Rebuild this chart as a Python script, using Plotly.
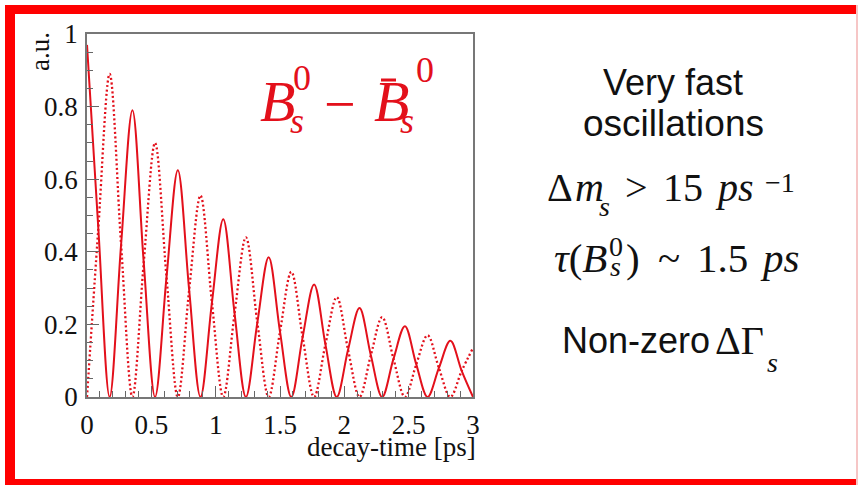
import plotly.graph_objects as go

# ---- data (decay time in ps, amplitude in a.u.) ----
t_ps = [0.000, 0.088, 0.176, 0.265, 0.353, 0.441, 0.529, 0.618, 0.706, 0.794,
        0.882, 0.971, 1.059, 1.147, 1.235, 1.324, 1.412, 1.500, 1.588, 1.676,
        1.765, 1.853, 1.941, 2.029, 2.118, 2.206, 2.294, 2.382, 2.471, 2.559,
        2.647, 2.735, 2.824, 2.912, 3.000]
unmixed = [0.97, 0.465, 0, 0.42, 0.79, 0.37, 0, 0.33, 0.625, 0.295,
           0, 0.26, 0.49, 0.23, 0, 0.205, 0.385, 0.18, 0, 0.165,
           0.31, 0.145, 0, 0.13, 0.245, 0.115, 0, 0.105, 0.195, 0.09,
           0, 0.08, 0.155, 0.072, 0]
mixed = [0, 0.465, 0.89, 0.42, 0, 0.37, 0.70, 0.33, 0, 0.295,
         0.555, 0.26, 0, 0.23, 0.44, 0.205, 0, 0.18, 0.345, 0.165,
         0, 0.145, 0.275, 0.13, 0, 0.115, 0.22, 0.105, 0, 0.09,
         0.17, 0.08, 0, 0.072, 0.135]
x_ticks = [0, 0.5, 1, 1.5, 2, 2.5, 3]
x_labels = ["0", "0.5", "1", "1.5", "2", "2.5", "3"]
y_ticks = [0, 0.2, 0.4, 0.6, 0.8, 1]
y_labels = ["0", "0.2", "0.4", "0.6", "0.8", "1"]

W, H = 858, 485
RED = "#e3101b"
SERIF = "Liberation Serif"
SANS = "Liberation Sans"


def px(x):
    return x / W


def py(y):
    return 1 - y / H


fig = go.Figure()
fig.add_trace(go.Scatter(x=t_ps, y=unmixed, mode="lines",
                         line=dict(color=RED, width=2, shape="spline", smoothing=1.0),
                         showlegend=False, hoverinfo="skip"))
fig.add_trace(go.Scatter(x=t_ps, y=mixed, mode="lines",
                         line=dict(color=RED, width=2.3, dash="2px,2.5px",
                                   shape="spline", smoothing=1.0),
                         showlegend=False, hoverinfo="skip"))

axis_common = dict(showgrid=False, zeroline=False, showline=True, mirror=True,
                   automargin=False,
                   linecolor="#777777", linewidth=1.5, ticks="inside",
                   tickcolor="#666666", tickwidth=1.2,
                   tickfont=dict(family=SERIF, size=27, color="#111111"))
fig.update_xaxes(range=[0, 3], domain=[px(87), px(473)], tickvals=x_ticks,
                 ticktext=x_labels, ticklen=11, ticklabelstandoff=3,
                 minor=dict(ticks="inside", dtick=0.1, ticklen=6,
                            tickcolor="#666666", tickwidth=1.2),
                 **axis_common)
fig.update_yaxes(range=[0, 1], domain=[py(397), py(34)], tickvals=y_ticks,
                 ticktext=y_labels, ticklen=12, ticklabelstandoff=2,
                 minor=dict(ticks="inside", dtick=0.05, ticklen=6,
                            tickcolor="#666666", tickwidth=1.2),
                 **axis_common)

ann = []


def add(text, x, y, size, family=SERIF, color="#111111", xanchor="center",
        yanchor="middle", angle=0):
    ann.append(dict(text=text, x=px(x), y=py(y), xref="paper", yref="paper",
                    showarrow=False, xanchor=xanchor, yanchor=yanchor,
                    textangle=angle, font=dict(family=family, size=size, color=color)))


# axis labels
add("decay-time [ps]", 478, 447, 27, xanchor="right")
add("a.u.", 40, 52, 27, angle=-90)

# B_s^0 - Bbar_s^0 label
add("<i>B</i>", 277, 101, 58, color=RED)
add("0", 302, 78, 36, color=RED)
add("<i>s</i>", 297, 121, 36, color=RED)
add("\u2212", 340, 104, 56, color=RED)
add("<i>B</i>", 391, 101, 58, color=RED)
add("<i>s</i>", 407, 121, 36, color=RED)
add("0", 425, 70, 36, color=RED)

# right-hand text
add("Very fast", 673, 82, 36, family=SANS)
add("oscillations", 673, 124, 37, family=SANS)

# line: Delta m_s > 15 ps^-1
add("\u0394", 545, 188, 40, xanchor="left")
add("<i>m</i>", 573, 188, 40, xanchor="left")
add("<i>s</i>", 604, 206, 28)
add("&gt;", 636, 188, 40)
add("15", 683, 188, 40)
add("<i>ps</i>", 713, 188, 40, xanchor="left")
add("\u22121", 763, 182, 28, xanchor="left")

# line: tau(B_s^0) ~ 1.5 ps
add("<i>\u03c4</i>(<i>B</i>", 609, 258, 41, xanchor="right")
add("0", 616, 247, 28)
add("<i>s</i>", 615, 266, 28)
add(")", 624, 258, 41, xanchor="left")
add("~", 669, 258, 41)
add("1.5", 722, 258, 41)
add("<i>ps</i>", 779, 258, 41)

# line: Non-zero Delta Gamma_s
add("Non-zero", 560, 340, 36, family=SANS, xanchor="left")
add("\u0394\u0393", 713, 340, 40, xanchor="left")
add("<i>s</i>", 765, 362, 28, xanchor="left")

shapes = [
    # red slide frame
    dict(type="rect", xref="paper", yref="paper", x0=px(5), x1=px(858), y0=py(14), y1=py(5),
         fillcolor="#ff0000", line=dict(width=0), layer="above"),
    dict(type="rect", xref="paper", yref="paper", x0=px(5), x1=px(15), y0=py(485), y1=py(5),
         fillcolor="#ff0000", line=dict(width=0), layer="above"),
    dict(type="rect", xref="paper", yref="paper", x0=px(5), x1=px(858), y0=py(485), y1=py(479),
         fillcolor="#ff0000", line=dict(width=0), layer="above"),
    dict(type="rect", xref="paper", yref="paper", x0=px(856), x1=px(858), y0=py(485), y1=py(5),
         fillcolor="#f6c6c6", line=dict(width=0), layer="above"),
    # bar over the second B
    dict(type="line", xref="paper", yref="paper", x0=px(381), x1=px(396), y0=py(80), y1=py(80),
         line=dict(color=RED, width=3)),
]

fig.update_layout(width=W, height=H, margin=dict(l=0, r=0, t=0, b=0, autoexpand=False),
                  paper_bgcolor="white", plot_bgcolor="white",
                  annotations=ann, shapes=shapes, showlegend=False)

fig.write_html("out.html", config={"displayModeBar": False},
               post_script="document.body.style.margin='0';document.body.style.overflow='hidden';")
